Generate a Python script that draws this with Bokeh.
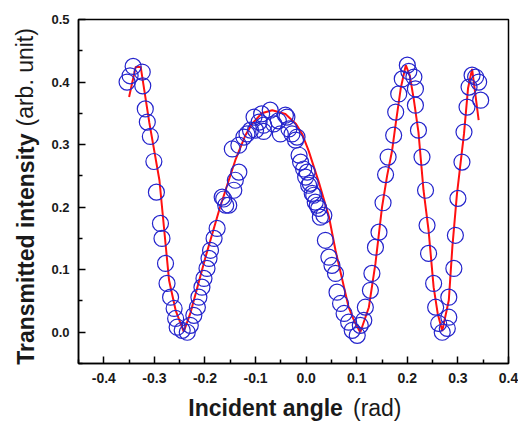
from bokeh.plotting import figure
from bokeh.layouts import row, column
from bokeh.models import FixedTicker, PrintfTickFormatter, Range1d
from bokeh.core.properties import value
from bokeh.embed import file_html
from bokeh.resources import INLINE

# measured data (incident angle in rad, transmitted intensity)
data_x = [-0.354, -0.348, -0.342, -0.324, -0.323, -0.318, -0.314, -0.308, -0.301, -0.296,
          -0.288, -0.285, -0.278, -0.275, -0.268, -0.261, -0.258, -0.255, -0.245, -0.235,
          -0.229, -0.222, -0.215, -0.212, -0.206, -0.202, -0.196, -0.192, -0.189, -0.182,
          -0.176, -0.166, -0.159, -0.163, -0.153, -0.143, -0.140, -0.133, -0.146, -0.133,
          -0.123, -0.117, -0.110, -0.100, -0.103, -0.093, -0.084, -0.084, -0.071, -0.064,
          -0.051, -0.038, -0.034, -0.028, -0.021, -0.014, -0.011, -0.005, -0.001, 0.005,
          0.012, 0.018, 0.025, 0.035, -0.041, -0.018, -0.088, -0.055,
          0.002, 0.008, 0.015, 0.022, 0.028, 0.038, 0.045, 0.051, 0.058, 0.061,
          0.068, 0.075, 0.084, 0.091, 0.101, 0.107, 0.114, 0.117, 0.127, 0.130,
          0.137, 0.144, 0.152, 0.157, 0.162, 0.173, 0.177, 0.183, 0.190, 0.200,
          0.203, 0.213, 0.216, 0.216, 0.222, 0.229, 0.236, 0.239, 0.242, 0.252,
          0.256, 0.262, 0.269, 0.279, 0.282, 0.282, 0.292, 0.295, 0.300, 0.308,
          0.312, 0.318, 0.322, 0.328, 0.335, 0.341, 0.345]
data_y = [0.400, 0.410, 0.425, 0.416, 0.394, 0.357, 0.336, 0.313, 0.273, 0.224,
          0.174, 0.150, 0.110, 0.078, 0.056, 0.038, 0.022, 0.008, 0.003, 0.000,
          0.011, 0.027, 0.040, 0.056, 0.072, 0.086, 0.102, 0.118, 0.131, 0.150,
          0.166, 0.216, 0.203, 0.213, 0.203, 0.227, 0.243, 0.256, 0.293, 0.299,
          0.312, 0.317, 0.323, 0.323, 0.344, 0.336, 0.331, 0.321, 0.355, 0.333,
          0.317, 0.344, 0.325, 0.317, 0.307, 0.283, 0.272, 0.261, 0.248, 0.235,
          0.222, 0.208, 0.198, 0.187, 0.347, 0.312, 0.349, 0.338,
          0.256, 0.238, 0.219, 0.203, 0.184, 0.147, 0.120, 0.107, 0.094, 0.064,
          0.046, 0.030, 0.016, 0.003, -0.005, 0.011, 0.019, 0.040, 0.067, 0.094,
          0.136, 0.160, 0.207, 0.252, 0.280, 0.315, 0.352, 0.381, 0.405, 0.427,
          0.417, 0.408, 0.389, 0.363, 0.323, 0.280, 0.227, 0.171, 0.126, 0.078,
          0.040, 0.014, 0.000, 0.006, 0.024, 0.056, 0.102, 0.155, 0.214, 0.272,
          0.320, 0.360, 0.392, 0.411, 0.408, 0.400, 0.371]

# fitted curve
fit_x = [-0.350, -0.337, -0.327, -0.310, -0.290, -0.271, -0.258, -0.242, -0.229, -0.199,
         -0.172, -0.153, -0.140, -0.120, -0.107, -0.088, -0.067, -0.041, -0.020, -0.008,
         0.005, 0.025, 0.045, 0.058, 0.084, 0.095, 0.107, 0.124, 0.137, 0.150,
         0.160, 0.170, 0.177, 0.187, 0.197, 0.205, 0.213, 0.222, 0.232, 0.242,
         0.252, 0.260, 0.269, 0.282, 0.289, 0.298, 0.312, 0.320, 0.328, 0.341]
fit_y = [0.376, 0.424, 0.424, 0.335, 0.243, 0.083, 0.035, 0.001, 0.030, 0.120,
         0.195, 0.243, 0.275, 0.315, 0.333, 0.350, 0.355, 0.349, 0.333, 0.317,
         0.290, 0.240, 0.185, 0.131, 0.040, 0.018, 0.000, 0.040, 0.110, 0.200,
         0.250, 0.291, 0.333, 0.390, 0.427, 0.410, 0.371, 0.320, 0.227, 0.163,
         0.072, 0.030, 0.002, 0.051, 0.136, 0.220, 0.317, 0.390, 0.421, 0.339]

x_ticks = [-0.4, -0.3, -0.2, -0.1, 0.0, 0.1, 0.2, 0.3, 0.4]
x_minor = [-0.45, -0.35, -0.25, -0.15, -0.05, 0.05, 0.15, 0.25, 0.35]
y_ticks = [0.0, 0.1, 0.2, 0.3, 0.4, 0.5]
y_minor = [-0.05, 0.05, 0.15, 0.25, 0.35, 0.45]

x_title_bold, x_title_normal = "Incident angle", "(rad)"
y_title_bold, y_title_normal = "Transmitted intensity", "(arb. unit)"

FONT = "Liberation Sans"
TXT = "#1a1a1a"

p = figure(width=470, height=389, output_backend="svg", toolbar_location=None,
           x_range=Range1d(-0.45, 0.4), y_range=Range1d(-0.05, 0.5),
           min_border_left=29, min_border_right=10, min_border_top=19, min_border_bottom=26)
p.grid.visible = False
p.outline_line_color = "black"
p.outline_line_width = 1.5

for ax, tk, mn, fs in ((p.xaxis[0], x_ticks, x_minor, "14px"),
                       (p.yaxis[0], y_ticks, y_minor, "13px")):
    ax.ticker = FixedTicker(ticks=tk, minor_ticks=mn)
    ax.formatter = PrintfTickFormatter(format="%.1f")
    ax.major_tick_in = 7
    ax.major_tick_out = 0
    ax.minor_tick_in = 4
    ax.minor_tick_out = 0
    ax.axis_line_width = 1.5
    ax.major_tick_line_width = 1.5
    ax.minor_tick_line_width = 1.5
    ax.major_label_text_font = FONT
    ax.major_label_text_font_style = "bold"
    ax.major_label_text_font_size = fs
    ax.major_label_text_color = TXT
    ax.major_label_standoff = 9

p.line(fit_x, fit_y, line_color="#ff1010", line_width=2)
p.scatter(data_x, data_y, marker="circle", size=16, fill_color=None,
          line_color="#2424cc", line_width=1.2)


def text_panel(w, h):
    f = figure(width=w, height=h, output_backend="svg", toolbar_location=None,
               x_range=Range1d(0, w), y_range=Range1d(0, h), min_border=0,
               x_axis_location=None, y_axis_location=None)
    f.grid.visible = False
    f.outline_line_color = None
    return f


TS = "23px"
yt = text_panel(48, 423)
yt.text(x=[25], y=[290], text=[y_title_bold], angle=1.5708, text_align="right",
        text_baseline="middle", text_font=value(FONT), text_font_style="bold",
        text_font_size=TS, text_color=TXT)
yt.text(x=[25], y=[297], text=[y_title_normal], angle=1.5708, text_align="left",
        text_baseline="middle", text_font=value(FONT), text_font_style="normal",
        text_font_size=TS, text_color=TXT)

xt = text_panel(470, 34)
xt.text(x=[289], y=[16], text=[x_title_bold], text_align="right",
        text_baseline="middle", text_font=value(FONT), text_font_style="bold",
        text_font_size=TS, text_color=TXT)
xt.text(x=[300], y=[16], text=[x_title_normal], text_align="left",
        text_baseline="middle", text_font=value(FONT), text_font_style="normal",
        text_font_size=TS, text_color=TXT)

layout = row(yt, column(p, xt))
open("out.html", "w").write(file_html(layout, INLINE))
